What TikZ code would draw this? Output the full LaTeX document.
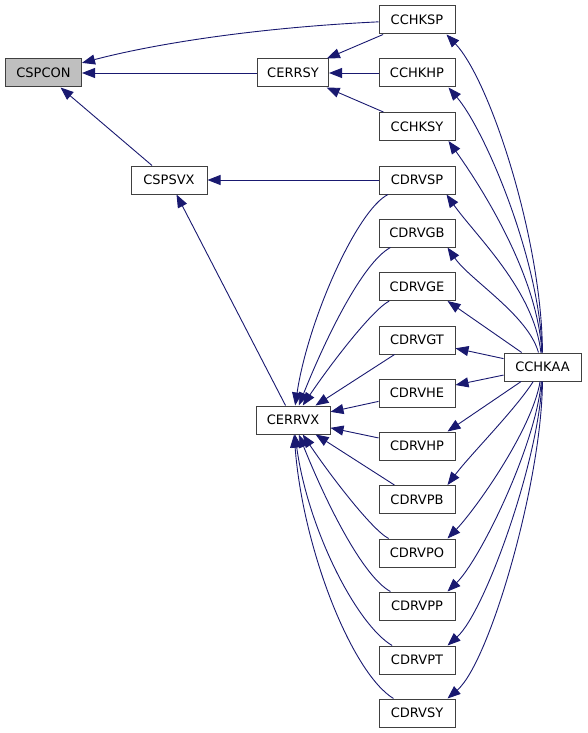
\documentclass[tikz,border=0pt]{standalone}
\usepackage{fontspec}
\setmainfont{DejaVu Sans}
\usepackage{tikz}
\usetikzlibrary{arrows.meta}
\definecolor{callblue}{HTML}{191970}

\begin{document}
\begin{tikzpicture}[x=1pt,y=-1pt,
  fn/.style={draw=black!75,line width=1pt,fill=white,minimum width=76pt,minimum height=28pt,inner sep=0pt,font=\fontsize{13}{15}\selectfont},
  call/.style={draw=callblue,line width=0.9pt,-{Triangle[length=13pt,width=10pt]}}]
\useasboundingbox (0,0) rectangle (587,733);
\node[fn,fill=black!25] (cspcon) at (43.5,73) {CSPCON};
\node[fn,minimum width=71pt] (cerrsy) at (293,73) {CERRSY};
\node[fn] (cspsvx) at (169,180) {CSPSVX};
\node[fn,minimum width=74pt] (cerrvx) at (293,420) {CERRVX};
\node[fn] (cchksp) at (417,20) {CCHKSP};
\node[fn] (cchkhp) at (417,73) {CCHKHP};
\node[fn] (cchksy) at (417,126.5) {CCHKSY};
\node[fn] (cdrvsp) at (417,180) {CDRVSP};
\node[fn] (cdrvgb) at (417,233) {CDRVGB};
\node[fn] (cdrvge) at (417,286.5) {CDRVGE};
\node[fn] (cdrvgt) at (417,340) {CDRVGT};
\node[fn] (cdrvhe) at (417,393) {CDRVHE};
\node[fn] (cdrvhp) at (417,446) {CDRVHP};
\node[fn] (cdrvpb) at (417,499.5) {CDRVPB};
\node[fn] (cdrvpo) at (417,553) {CDRVPO};
\node[fn] (cdrvpp) at (417,606) {CDRVPP};
\node[fn] (cdrvpt) at (417,660) {CDRVPT};
\node[fn] (cdrvsy) at (417,713) {CDRVSY};
\node[fn,minimum width=77pt] (cchkaa) at (542.5,367) {CCHKAA};

\draw[call] (cchksp) .. controls (250,28) and (150,45) .. (cspcon);
\draw[call] (cerrsy) -- (cspcon);
\draw[call] (cspsvx) -- (cspcon);
\draw[call] (cchksp) -- (cerrsy);
\draw[call] (cchkhp) -- (cerrsy);
\draw[call] (cchksy) -- (cerrsy);
\draw[call] (cdrvsp) -- (cspsvx);
\draw[call] (cerrvx) -- (cspsvx);

\draw[call] (cdrvsp) .. controls (357,210) and (308,320) .. (cerrvx);
\draw[call] (cdrvgb) .. controls (362,263) and (325,340) .. (cerrvx);
\draw[call] (cdrvge) .. controls (372,310) and (330,365) .. (cerrvx);
\draw[call] (cdrvgt) -- (cerrvx);
\draw[call] (cdrvhe) -- (cerrvx);
\draw[call] (cdrvhp) -- (cerrvx);
\draw[call] (cdrvpb) -- (cerrvx);
\draw[call] (cdrvpo) .. controls (372,530) and (330,475) .. (cerrvx);
\draw[call] (cdrvpp) .. controls (362,576) and (325,500) .. (cerrvx);
\draw[call] (cdrvpt) .. controls (357,625) and (308,530) .. (cerrvx);
\draw[call] (cdrvsy) .. controls (352,673) and (303,550) .. (cerrvx);

\draw[call] (cchkaa) .. controls (542,240) and (490,80) .. ([xshift=-9pt]cchksp.south east);
\draw[call] (cchkaa) .. controls (540,260) and (485,130) .. ([xshift=-7pt]cchkhp.south east);
\draw[call] (cchkaa) .. controls (538,275) and (480,185) .. ([xshift=-7pt]cchksy.south east);
\draw[call] (cchkaa) .. controls (534,290) and (475,235) .. ([xshift=-9pt]cdrvsp.south east);
\draw[call] (cchkaa) .. controls (528,315) and (470,280) .. ([xshift=-8pt]cdrvgb.south east);
\draw[call] (cchkaa) -- ([xshift=-8pt]cdrvge.south east);
\draw[call] (cchkaa) -- (cdrvgt);
\draw[call] (cchkaa) -- (cdrvhe);
\draw[call] (cchkaa) -- ([xshift=-8pt]cdrvhp.north east);
\draw[call] (cchkaa) .. controls (515,410) and (470,455) .. ([xshift=-8pt]cdrvpb.north east);
\draw[call] (cchkaa) .. controls (532,430) and (475,510) .. ([xshift=-8pt]cdrvpo.north east);
\draw[call] (cchkaa) .. controls (536,445) and (480,560) .. ([xshift=-8pt]cdrvpp.north east);
\draw[call] (cchkaa) .. controls (539,460) and (485,612) .. ([xshift=-8pt]cdrvpt.north east);
\draw[call] (cchkaa) .. controls (542,480) and (490,662) .. ([xshift=-8pt]cdrvsy.north east);
\end{tikzpicture}
\end{document}
